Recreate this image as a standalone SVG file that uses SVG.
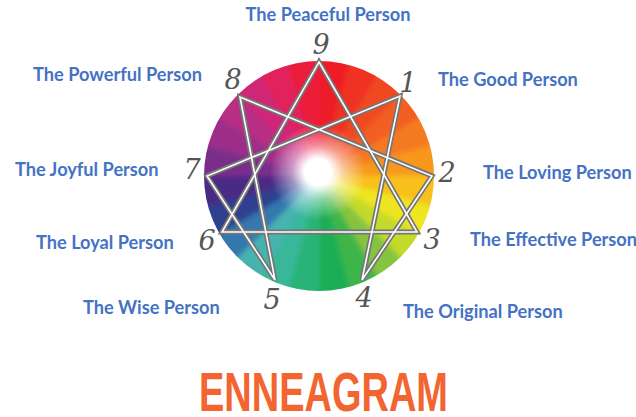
<svg xmlns="http://www.w3.org/2000/svg" width="636" height="417" viewBox="0 0 636 417">
<style>
.lbl{font-family:Lato,"Open Sans","Liberation Sans",sans-serif;font-weight:bold;font-size:18.2px;fill:#4472c4}
.num{font-family:"DejaVu Serif","Liberation Serif",serif;font-style:italic;font-size:27px;fill:#555555;text-anchor:middle}
.lnO{fill:none;stroke:#767676;stroke-width:5;stroke-linejoin:miter}
.lnI{fill:none;stroke:#ffffff;stroke-width:1.6;stroke-linejoin:miter}
.title{font-family:"Liberation Sans",Arial,sans-serif;font-weight:bold;font-size:55px;fill:#f26531}
</style>
<defs>
<clipPath id="wheelClip"><circle cx="319" cy="176" r="115"/></clipPath>
<filter id="soft" x="-20%" y="-20%" width="140%" height="140%"><feGaussianBlur stdDeviation="2.5"/></filter>
<radialGradient id="glow" cx="318" cy="172" r="48" gradientUnits="userSpaceOnUse">
<stop offset="0" stop-color="#fff" stop-opacity="1"/>
<stop offset="0.28" stop-color="#fff" stop-opacity="1"/>
<stop offset="0.55" stop-color="#fff" stop-opacity="0.5"/>
<stop offset="1" stop-color="#fff" stop-opacity="0"/>
</radialGradient>
</defs>
<rect width="636" height="417" fill="#ffffff"/>
<g id="wheel" clip-path="url(#wheelClip)">
<g filter="url(#soft)">
<polygon points="319,176 319,46 352.65,50.43" fill="#ee1c25" stroke="#ee1c25"/>
<polygon points="319,176 352.65,50.43 384,63.42" fill="#ef3323" stroke="#ef3323"/>
<polygon points="319,176 384,63.42 410.92,84.08" fill="#f04a23" stroke="#f04a23"/>
<polygon points="319,176 410.92,84.08 431.58,111" fill="#f25f22" stroke="#f25f22"/>
<polygon points="319,176 431.58,111 444.57,142.35" fill="#f47a20" stroke="#f47a20"/>
<polygon points="319,176 444.57,142.35 449,176" fill="#f7981d" stroke="#f7981d"/>
<polygon points="319,176 449,176 444.57,209.65" fill="#f9c01c" stroke="#f9c01c"/>
<polygon points="319,176 444.57,209.65 431.58,241" fill="#efe520" stroke="#efe520"/>
<polygon points="319,176 431.58,241 410.92,267.92" fill="#c4da2b" stroke="#c4da2b"/>
<polygon points="319,176 410.92,267.92 384,288.58" fill="#86c441" stroke="#86c441"/>
<polygon points="319,176 384,288.58 352.65,301.57" fill="#3db54a" stroke="#3db54a"/>
<polygon points="319,176 352.65,301.57 319,306" fill="#1fae55" stroke="#1fae55"/>
<polygon points="319,176 319,306 285.35,301.57" fill="#2ab377" stroke="#2ab377"/>
<polygon points="319,176 285.35,301.57 254,288.58" fill="#38b79a" stroke="#38b79a"/>
<polygon points="319,176 254,288.58 227.08,267.92" fill="#46b3b0" stroke="#46b3b0"/>
<polygon points="319,176 227.08,267.92 206.42,241" fill="#3477ae" stroke="#3477ae"/>
<polygon points="319,176 206.42,241 193.43,209.65" fill="#2d3f8f" stroke="#2d3f8f"/>
<polygon points="319,176 193.43,209.65 189,176" fill="#4a2b86" stroke="#4a2b86"/>
<polygon points="319,176 189,176 193.43,142.35" fill="#7a2d8c" stroke="#7a2d8c"/>
<polygon points="319,176 193.43,142.35 206.42,111" fill="#9c2f8a" stroke="#9c2f8a"/>
<polygon points="319,176 206.42,111 227.08,84.08" fill="#b72d84" stroke="#b72d84"/>
<polygon points="319,176 227.08,84.08 254,63.42" fill="#cf2877" stroke="#cf2877"/>
<polygon points="319,176 254,63.42 285.35,50.43" fill="#e2205c" stroke="#e2205c"/>
<polygon points="319,176 285.35,50.43 319,46" fill="#ec1c3a" stroke="#ec1c3a"/>
</g>
<circle cx="318" cy="172" r="48" fill="url(#glow)"/>
</g>
<g id="connectors">
<path class="lnO" d="M319,62 L417,232 L222,232 Z"/>
<path class="lnO" d="M400,96 L362,280 L432,176 L240,97 L275,280 L207,176 Z"/>
<path class="lnI" d="M319,62 L417,232 L222,232 Z"/>
<path class="lnI" d="M400,96 L362,280 L432,176 L240,97 L275,280 L207,176 Z"/>
</g>
<g id="node9"><text class="num" x="321" y="54">9</text><text class="lbl" x="328" y="21" text-anchor="middle">The Peaceful Person</text></g>
<g id="node1"><text class="num" x="408" y="92">1</text><text class="lbl" x="438" y="86">The Good Person</text></g>
<g id="node2"><text class="num" x="447" y="182">2</text><text class="lbl" x="483" y="179">The Loving Person</text></g>
<g id="node3"><text class="num" x="432" y="249">3</text><text class="lbl" x="470" y="246">The Effective Person</text></g>
<g id="node4"><text class="num" x="364" y="307">4</text><text class="lbl" x="403" y="318">The Original Person</text></g>
<g id="node5"><text class="num" x="272" y="309">5</text><text class="lbl" x="83" y="314">The Wise Person</text></g>
<g id="node6"><text class="num" x="207" y="250">6</text><text class="lbl" x="36" y="249">The Loyal Person</text></g>
<g id="node7"><text class="num" x="192" y="179">7</text><text class="lbl" x="15" y="176">The Joyful Person</text></g>
<g id="node8"><text class="num" x="233" y="89">8</text><text class="lbl" x="33" y="81">The Powerful Person</text></g>
<text class="title" x="199" y="411" textLength="249" lengthAdjust="spacingAndGlyphs">ENNEAGRAM</text>
</svg>
